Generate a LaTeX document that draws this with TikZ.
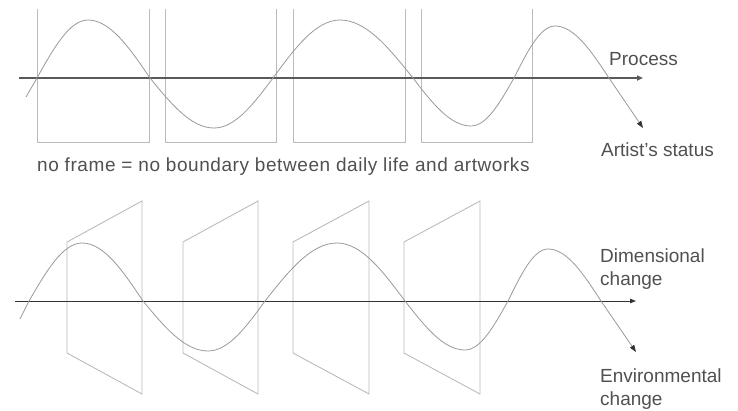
\documentclass[tikz,border=0pt]{standalone}
\usepackage{fontspec}
\setmainfont{Liberation Sans}
\usetikzlibrary{arrows.meta}
\definecolor{framecol}{HTML}{BBBBBB}
\definecolor{wavecol}{HTML}{999999}
\definecolor{axiscol}{HTML}{5A5A5A}
\definecolor{axisdark}{HTML}{333333}
\definecolor{textcol}{HTML}{505050}
\begin{document}
\begin{tikzpicture}[x=1pt,y=-1pt,
  framebox/.style={draw=framecol,line width=0.9pt},
  wave/.style={draw=wavecol,line width=0.8pt},
  wavetip/.style={draw=wavecol,line width=0.8pt,-{Triangle[length=7pt,width=5pt,color=axisdark]}},
  axistop/.style={draw=axiscol,line width=2pt,-{Triangle[length=6pt,width=5pt]}},
  axisbot/.style={draw=axisdark,line width=1pt,-{Triangle[length=6pt,width=4.5pt]}},
  lbl/.style={text=textcol,font=\fontsize{19}{23}\selectfont,inner sep=0pt,align=left}]
\useasboundingbox (0,0) rectangle (738,410);

% ---------- top panel ----------
\draw[framebox] (37,9) -- (37,142) -- (149,142) -- (149,9);
\draw[framebox] (165,9) -- (165,142) -- (276,142) -- (276,9);
\draw[framebox] (293,9) -- (293,142) -- (405,142) -- (405,9);
\draw[framebox] (421,9) -- (421,142) -- (532,142) -- (532,9);

\coordinate (pa) at (19,78);
\coordinate (pb) at (643,78);
\draw[axistop] (pa) -- (pb);

\coordinate (ws) at (26,97);
\coordinate (wc) at (609,78);
\coordinate (we) at (643,128);
\draw[wave] (ws) -- (37,78)
  .. controls (53.6,48.3) and (69.5,20) .. (88,20)
  .. controls (110.4,20) and (129.8,48.3) .. (150,78)
  .. controls (170.9,103.6) and (190.8,128) .. (214,128)
  .. controls (235.4,128) and (253.8,103.6) .. (273,78)
  .. controls (294.8,48.3) and (315.7,20) .. (340,20)
  .. controls (366.4,20) and (389.2,48.3) .. (413,78)
  .. controls (431.9,102.6) and (450,126) .. (471,126)
  .. controls (486.6,126) and (500,102.6) .. (514,78)
  .. controls (527.4,51.4) and (540.2,26) .. (555,26)
  .. controls (574.5,26) and (591.4,51.4) .. (wc);
\draw[wavetip] (wc) -- (we);

\node[lbl,anchor=base west] (process) at (609,65) {Process};
\node[lbl,anchor=base west] (status) at (601,156) {Artist’s status};
\node[lbl,anchor=base west] (noframe) at (37,171) {\addfontfeature{LetterSpace=3}no frame = no boundary between daily life and artworks};

% ---------- bottom panel ----------
\draw[framebox] (67,242) -- (142,201) -- (142,394) -- (67,353) -- cycle;
\draw[framebox] (183,242) -- (258,201) -- (258,394) -- (183,353) -- cycle;
\draw[framebox] (293,242) -- (369,201) -- (369,394) -- (293,353) -- cycle;
\draw[framebox] (404,242) -- (480,201) -- (480,394) -- (404,353) -- cycle;

\coordinate (qa) at (15,301);
\coordinate (qb) at (636,301);
\draw[axisbot] (qa) -- (qb);

\coordinate (vs) at (20,319);
\coordinate (vc) at (601,301);
\coordinate (ve) at (636,352);
\draw[wave] (vs) -- (29,301)
  .. controls (46.3,271.3) and (62.8,243) .. (82,243)
  .. controls (104.1,243) and (123.1,271.3) .. (143,301)
  .. controls (164.2,326.6) and (184.5,351) .. (208,351)
  .. controls (228.6,351) and (246.4,326.6) .. (265,301)
  .. controls (288.5,271.3) and (310.9,243) .. (337,243)
  .. controls (361.6,243) and (382.8,271.3) .. (405,301)
  .. controls (424.6,326.1) and (443.3,350) .. (465,350)
  .. controls (480.6,350) and (494,326.1) .. (508,301)
  .. controls (521,274.4) and (533.5,249) .. (548,249)
  .. controls (567.2,249) and (583.7,274.4) .. (vc);
\draw[wavetip] (vc) -- (ve);

\node[lbl,anchor=base west] (dim) at (600,285) {Dimensional\\change};
\node[lbl,anchor=base west] (env) at (600,405) {Environmental\\change};
\end{tikzpicture}
\end{document}
